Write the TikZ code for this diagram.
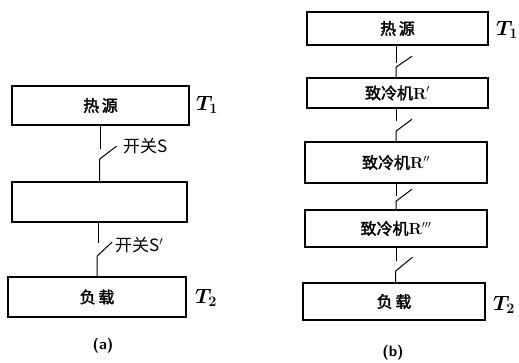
\documentclass[tikz,border=0pt]{standalone}
\usepackage{fontspec}
\newfontfamily\cjk{Noto Sans CJK SC}[AutoFakeBold=2]
\begin{document}
\begin{tikzpicture}[x=1pt,y=-1pt,
  blk/.style={draw,line width=1.6pt,inner sep=0pt,font=\cjk\bfseries\fontsize{16}{16}\selectfont},
  sw/.style={line width=1pt},
  lab/.style={font=\cjk\fontsize{17}{17}\selectfont,anchor=west,inner sep=0pt},
  tl/.style={font=\boldmath\fontsize{20}{20}\selectfont,inner sep=0pt},
  captxt/.style={font=\sffamily\bfseries\fontsize{15}{15}\selectfont,inner sep=0pt}]
\useasboundingbox (0,0) rectangle (519,363);
% (a)
\node[blk,minimum width=177pt,minimum height=39pt] (ha) at (100.5,105.5) {热\,源};
\node[blk,minimum width=175pt,minimum height=40pt] (ma) at (99.5,202) {};
\node[blk,minimum width=178pt,minimum height=40pt] (la) at (97,297) {负\,载};
\node[tl] (t1a) at (207,105) {$T_1$};
\node[tl] (t2a) at (206,298) {$T_2$};
\draw[sw] (ha.south) -- ++(0,23);
\draw[sw] (ma.north) -- ++(0,-22) -- ++(17,-13);
\node[lab] (s1) at (123,146) {开关S};
\draw[sw] ([xshift=-1.5pt]ma.south) -- ++(0,20);
\draw[sw] (la.north) -- ++(0,-20) -- ++(15,-14);
\node[lab] (s2) at (115,245) {开关S$'$};
\node[captxt] (ca) at (103,346) {(a)};
% (b)
\node[blk,minimum width=181pt,minimum height=33pt] (hb) at (397.5,28.5) {热\,源};
\node[blk,minimum width=181pt,minimum height=30pt] (r1) at (397.5,93) {致冷机{\rmfamily\bfseries R$'$}};
\node[blk,minimum width=182pt,minimum height=41pt] (r2) at (396,162.5) {致冷机{\rmfamily\bfseries R$''$}};
\node[blk,minimum width=182pt,minimum height=37pt] (r3) at (396,228.5) {致冷机{\rmfamily\bfseries R$'''$}};
\node[blk,minimum width=182pt,minimum height=37pt] (lb) at (394,301.5) {负\,载};
\node[tl] (t1b) at (507,30) {$T_1$};
\node[tl] (t2b) at (504,305) {$T_2$};
\draw[sw] ([xshift=-1.5pt]hb.south) -- ++(0,17);
\draw[sw] ([xshift=-1.5pt]r1.north) -- ++(0,-10) -- ++(16,-11);
\draw[sw] ([xshift=-1.5pt]r1.south) -- ++(0,12);
\draw[sw] (r2.north) -- ++(0,-10) -- ++(16,-12);
\draw[sw] (r2.south) -- ++(0,12);
\draw[sw] (r3.north) -- ++(0,-8) -- ++(16,-12);
\draw[sw] (r3.south) -- ++(0,13);
\draw[sw] ([xshift=1.5pt]lb.north) -- ++(0,-11) -- ++(17,-14);
\node[captxt] (cb) at (393,353) {(b)};
\end{tikzpicture}
\end{document}
